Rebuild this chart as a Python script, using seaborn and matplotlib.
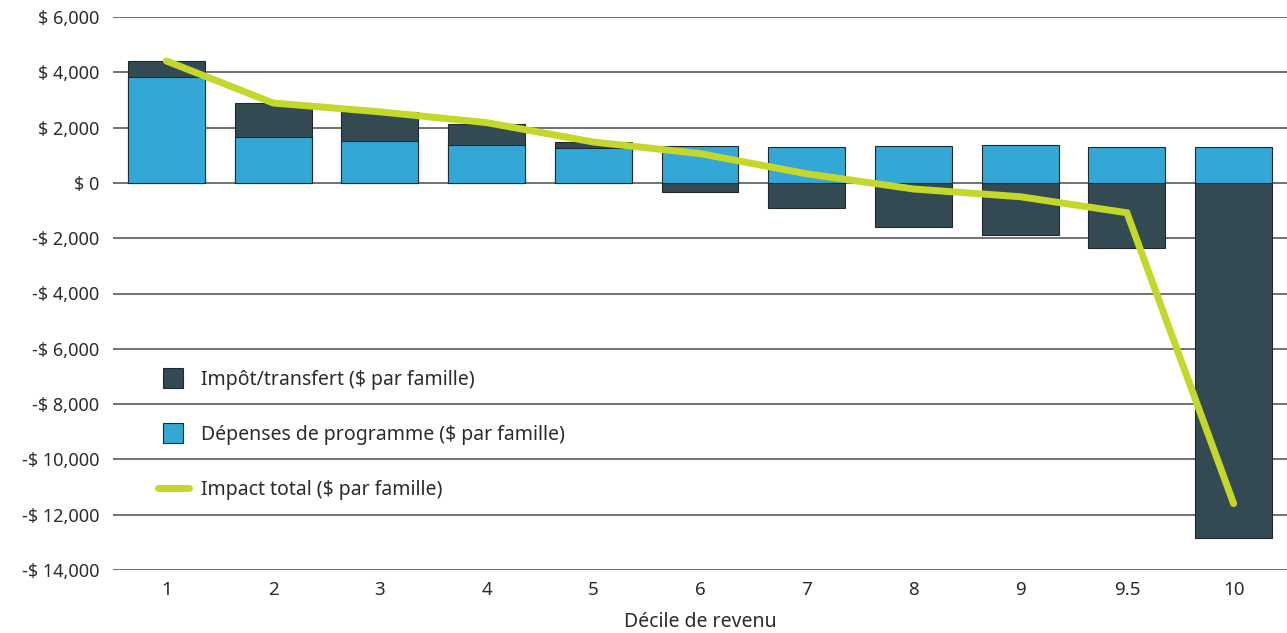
"""
Impact par décile de revenu: stacked bars (impôt/transfert + dépenses de programme)
with the total impact line on top.
"""

import numpy as np
import pandas as pd
import matplotlib
matplotlib.use('Agg')
import matplotlib.pyplot as plt
import seaborn as sns
from matplotlib.lines import Line2D
from matplotlib.ticker import FuncFormatter

# Data ($ par famille)
deciles = ['1', '2', '3', '4', '5', '6', '7', '8', '9', '9.5', '10']
depenses = [3830, 1660, 1520, 1370, 1270, 1340, 1300, 1340, 1370, 1300, 1300]
impot = [580, 1230, 1050, 760, 220, -330, -900, -1590, -1880, -2350, -12840]
impact_total = [4410, 2890, 2570, 2180, 1480, 1060, 330, -220, -500, -1080, -11600]

DARK = '#344a53'
BLUE = '#33a7d6'
LIME = '#c3d82a'
GRID = '#5a5a5a'
TEXT = '#2b2b2b'

sns.set_theme(style='white')
plt.rcParams['font.family'] = ['Noto Sans', 'DejaVu Sans']

df = pd.DataFrame({'decile': deciles, 'depenses': depenses, 'impot': impot,
                   'total': impact_total})
# dark segment sits on top of the blue one when positive, below zero when negative
df['dark_extent'] = np.where(df['impot'] > 0, df['depenses'] + df['impot'], df['impot'])

fig = plt.figure(figsize=(12.87, 6.33), dpi=100)
ax = fig.add_axes([113 / 1287, 1 - 570 / 633, 1 - 113 / 1287, (570 - 17) / 633])

sns.barplot(data=df, x='decile', y='dark_extent', order=deciles, color=DARK,
            saturation=1, width=0.72, edgecolor='#1e2a2f', linewidth=0.8, ax=ax,
            zorder=2)
sns.barplot(data=df, x='decile', y='depenses', order=deciles, color=BLUE,
            saturation=1, width=0.72, edgecolor='#1e2a2f', linewidth=0.8, ax=ax,
            zorder=3)
sns.lineplot(data=df, x='decile', y='total', sort=False, color=LIME, linewidth=5,
             solid_capstyle='round', solid_joinstyle='miter', ax=ax, zorder=4)

# Axes styling
ax.set_ylim(-14000, 6000)
ax.set_xlim(-0.5, len(deciles) - 0.5)
ax.set_yticks(np.arange(-14000, 6001, 2000))
ax.yaxis.set_major_formatter(FuncFormatter(
    lambda v, _: f'$ {v:,.0f}' if v >= 0 else f'-$ {abs(v):,.0f}'))
ax.grid(axis='y', color=GRID, linewidth=1.2, zorder=0)
ax.set_axisbelow(True)
for s in ax.spines.values():
    s.set_visible(False)
ax.tick_params(axis='both', length=0, colors=TEXT)
ax.tick_params(axis='y', pad=10, labelsize=13)
ax.tick_params(axis='x', pad=8, labelsize=13.5)
ax.set_ylabel('')
ax.set_xlabel('Décile de revenu', fontsize=14, color=TEXT, labelpad=9)

handles = [
    Line2D([], [], marker='s', linestyle='none', markersize=14, markerfacecolor=DARK,
           markeredgecolor='#1e2a2f', markeredgewidth=0.8),
    Line2D([], [], marker='s', linestyle='none', markersize=14, markerfacecolor=BLUE,
           markeredgecolor='#1e2a2f', markeredgewidth=0.8),
    Line2D([], [], color=LIME, linewidth=5, solid_capstyle='round'),
]
labels = ['Impôt/transfert ($ par famille)', 'Dépenses de programme ($ par famille)',
          'Impact total ($ par famille)']
ax.legend(handles, labels, loc='upper left',
          bbox_to_anchor=((150 - 113) / 1174, (570 - 362) / 553),
          frameon=False, fontsize=14, handlelength=1.6, handletextpad=0.6,
          labelspacing=1.8, borderaxespad=0, labelcolor=TEXT)

fig.savefig('out.png', dpi=100)
